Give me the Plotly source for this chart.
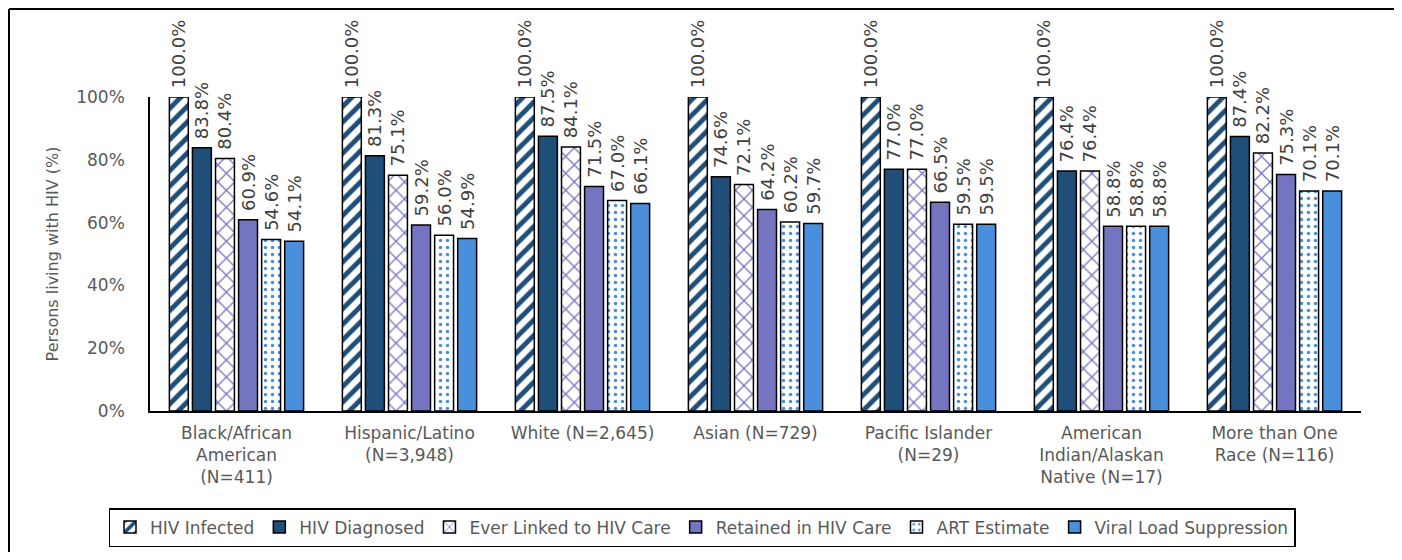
import plotly.graph_objects as go

categories = [
    "Black/African<br>American<br>(N=411)",
    "Hispanic/Latino<br>(N=3,948)",
    "White (N=2,645)",
    "Asian (N=729)",
    "Pacific Islander<br>(N=29)",
    "American<br>Indian/Alaskan<br>Native (N=17)",
    "More than One<br>Race (N=116)",
]

series_names = [
    "HIV Infected",
    "HIV Diagnosed",
    "Ever Linked to HIV Care",
    "Retained in HIV Care",
    "ART Estimate",
    "Viral Load Suppression",
]

hiv_infected = [100.0, 100.0, 100.0, 100.0, 100.0, 100.0, 100.0]
hiv_diagnosed = [83.8, 81.3, 87.5, 74.6, 77.0, 76.4, 87.4]
ever_linked = [80.4, 75.1, 84.1, 72.1, 77.0, 76.4, 82.2]
retained = [60.9, 59.2, 71.5, 64.2, 66.5, 58.8, 75.3]
art_estimate = [54.6, 56.0, 67.0, 60.2, 59.5, 58.8, 70.1]
viral_suppression = [54.1, 54.9, 66.1, 59.7, 59.5, 58.8, 70.1]

series_values = [hiv_infected, hiv_diagnosed, ever_linked, retained, art_estimate, viral_suppression]

DARK = "#1F4E79"
PURPLE = "#7574C0"
BLUE = "#4A8FDB"

styles = [
    dict(color="white", pattern=dict(shape="/", fgcolor=DARK, bgcolor="white", fgopacity=1, size=11, solidity=0.45, fillmode="overlay")),
    dict(color=DARK),
    dict(color="white", pattern=dict(shape="x", fgcolor=PURPLE, bgcolor="white", fgopacity=1, size=12, solidity=0.2, fillmode="overlay")),
    dict(color=PURPLE),
    dict(color="white", pattern=dict(shape=".", fgcolor=BLUE, bgcolor="white", fgopacity=1, size=7, solidity=0.2, fillmode="overlay")),
    dict(color=BLUE),
]

FONT = "DejaVu Sans"
GRAY = "#595959"
PAD = "\u00a0"

fig = go.Figure()
for name, vals, st in zip(series_names, series_values, styles):
    fig.add_trace(go.Bar(
        name=name,
        x=categories,
        y=[v / 100 for v in vals],
        text=[f"{PAD}{v:.1f}%" for v in vals],
        textposition="outside",
        textangle=-90,
        constraintext="none",
        cliponaxis=False,
        textfont=dict(family=FONT, size=18, color="#404040"),
        marker=dict(line=dict(color="black", width=1.5), **st),
    ))

# page is offset by the browser's 8px body margin
OFF = 8
W, H = 1402 - 2 * OFF, 560 - 2 * OFF
L = 150 - OFF
T = 97 - OFF
R = W - (1361 - OFF)
B = H - (411 - OFF)
pw = W - L - R
ph = H - T - B


def px_x(p):
    return (p - OFF - L) / pw


def px_y(p):
    return (H - B - (p - OFF)) / ph


fig.update_layout(
    width=W, height=H,
    margin=dict(l=L, r=R, t=T, b=B, autoexpand=False),
    paper_bgcolor="white",
    plot_bgcolor="white",
    barmode="group",
    bargap=0.2,
    bargroupgap=0.18,
    font=dict(family=FONT, color=GRAY, size=16),
    showlegend=True,
    legend=dict(
        orientation="h",
        x=px_x(702), xanchor="center",
        y=px_y(508), yanchor="top",
        bordercolor="black", borderwidth=1.5,
        font=dict(family=FONT, size=17, color=GRAY),
        itemwidth=30,
        traceorder="normal",
    ),
    xaxis=dict(
        showline=True, linecolor="black", linewidth=1.5,
        ticks="", showgrid=False,
        tickfont=dict(family=FONT, size=17, color=GRAY),
        ticklabelstandoff=6,
    ),
    yaxis=dict(
        range=[0, 1],
        tickvals=[0, 0.2, 0.4, 0.6, 0.8, 1.0],
        tickformat=".0%",
        showline=True, linecolor="black", linewidth=1.5,
        ticks="", showgrid=False, zeroline=False,
        tickfont=dict(family=FONT, size=17, color=GRAY),
        ticklabelstandoff=20,
        title=dict(text="Persons living with HIV (%)", font=dict(family=FONT, size=16, color=GRAY), standoff=14),
    ),
    shapes=[
        dict(type="line", xref="paper", yref="paper",
             x0=px_x(9), x1=px_x(1395), y0=px_y(9), y1=px_y(9),
             line=dict(color="black", width=2)),
        dict(type="line", xref="paper", yref="paper",
             x0=px_x(9), x1=px_x(9), y0=px_y(9), y1=px_y(575),
             line=dict(color="black", width=2)),
        dict(type="line", xref="paper", yref="paper",
             x0=px_x(1395), x1=px_x(1395), y0=px_y(9), y1=px_y(575),
             line=dict(color="black", width=2)),
    ],
)

fig.write_html("out.html")
